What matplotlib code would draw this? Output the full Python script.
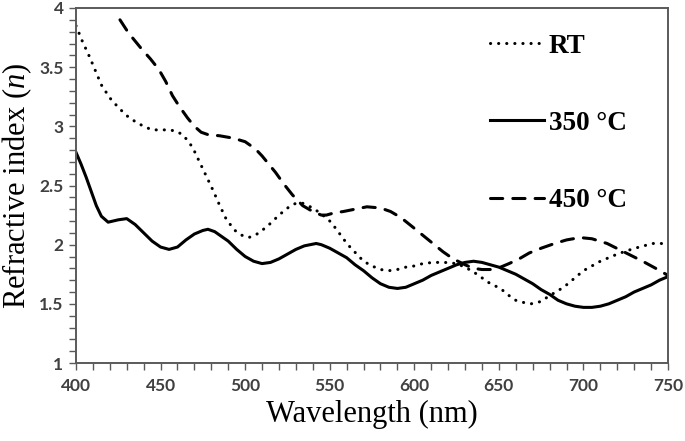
import matplotlib
matplotlib.use("Agg")
import matplotlib.pyplot as plt
from matplotlib.ticker import MultipleLocator

# ---- data ----
rt_wl = [400, 404, 407, 410, 415, 420, 425, 430, 435, 440, 445, 450, 455, 459, 463, 466, 469, 472,
         476, 481, 485, 489, 494, 498, 502, 506, 510, 515, 520, 526, 530, 534, 540, 545, 550, 554,
         558, 562, 566, 570, 575, 580, 585, 590, 595, 600, 605, 611, 618, 625, 630, 635, 640, 645,
         651, 655, 660, 665, 669, 675, 680, 685, 690, 695, 700, 705, 710, 715, 720, 726, 733, 741,
         746, 750]
rt_n = [3.85, 3.71, 3.62, 3.52, 3.35, 3.24, 3.16, 3.09, 3.04, 3.00, 2.97, 2.97, 2.97, 2.96, 2.93,
        2.88, 2.82, 2.73, 2.61, 2.46, 2.33, 2.21, 2.12, 2.08, 2.06, 2.08, 2.12, 2.18, 2.25, 2.32,
        2.35, 2.35, 2.31, 2.26, 2.20, 2.13, 2.05, 1.98, 1.92, 1.86, 1.82, 1.79, 1.78, 1.79, 1.81,
        1.82, 1.84, 1.85, 1.85, 1.84, 1.81, 1.77, 1.72, 1.67, 1.63, 1.58, 1.53, 1.51, 1.50, 1.52,
        1.57, 1.61, 1.66, 1.72, 1.78, 1.82, 1.86, 1.89, 1.92, 1.95, 1.98, 2.01, 2.01, 2.00]

t350_wl = [400, 403, 406, 409, 412, 415, 419, 425, 430, 435, 440, 445, 450, 455, 460, 465, 470, 475,
           478, 482, 486, 490, 495, 500, 505, 510, 515, 520, 525, 530, 535, 542, 545, 550, 555, 560,
           565, 570, 575, 580, 585, 590, 595, 600, 605, 610, 615, 620, 625, 630, 635, 640, 645, 650,
           655, 660, 665, 670, 675, 680, 685, 690, 695, 700, 705, 710, 715, 720, 725, 730, 735, 740,
           745, 750]
t350_n = [2.78, 2.68, 2.57, 2.45, 2.33, 2.24, 2.19, 2.21, 2.22, 2.17, 2.10, 2.03, 1.98, 1.96, 1.98,
          2.04, 2.09, 2.12, 2.13, 2.11, 2.07, 2.03, 1.96, 1.90, 1.86, 1.84, 1.85, 1.88, 1.92, 1.96,
          1.99, 2.01, 2.00, 1.97, 1.93, 1.89, 1.83, 1.78, 1.72, 1.67, 1.64, 1.63, 1.64, 1.67, 1.70,
          1.74, 1.77, 1.80, 1.83, 1.85, 1.86, 1.85, 1.83, 1.81, 1.78, 1.75, 1.71, 1.67, 1.62, 1.58,
          1.53, 1.50, 1.48, 1.47, 1.47, 1.48, 1.50, 1.53, 1.56, 1.60, 1.63, 1.66, 1.70, 1.73]

t450_wl = [426, 431, 435, 439, 444, 449, 453, 457, 461, 466, 470, 474, 478, 485, 493, 500, 506, 510,
           514, 518, 523, 528, 534, 540, 545, 548, 553, 558, 565, 572, 580, 586, 592, 599, 605, 611,
           617, 623, 630, 635, 640, 646, 651, 656, 662, 668, 675, 683, 690, 698, 705, 714, 721, 728,
           735, 744, 750]
t450_n = [3.90, 3.79, 3.72, 3.65, 3.57, 3.48, 3.38, 3.26, 3.17, 3.07, 3.00, 2.95, 2.93, 2.92, 2.90,
          2.87, 2.81, 2.75, 2.68, 2.61, 2.51, 2.42, 2.33, 2.28, 2.25, 2.25, 2.27, 2.28, 2.30, 2.32,
          2.31, 2.28, 2.23, 2.15, 2.08, 2.01, 1.94, 1.88, 1.83, 1.80, 1.79, 1.79, 1.81, 1.84, 1.88,
          1.93, 1.97, 2.01, 2.04, 2.06, 2.05, 2.01, 1.96, 1.91, 1.86, 1.79, 1.74]

labels = ["RT", "350 \u00b0C", "450 \u00b0C"]
x_ticks = [400, 450, 500, 550, 600, 650, 700, 750]
y_ticks = [1, 1.5, 2, 2.5, 3, 3.5, 4]
y_tick_labels = ["1", "1.5", "2", "2.5", "3", "3.5", "4"]

plt.rcParams['mathtext.fontset'] = 'custom'
plt.rcParams['mathtext.it'] = 'Liberation Serif:italic'
plt.rcParams['mathtext.rm'] = 'Liberation Serif'

fig = plt.figure(figsize=(6.85, 4.41), dpi=100)
ax = fig.add_axes([76/685, 1 - 363/441, (668-76)/685, (363-8)/441])

ax.plot(rt_wl, rt_n, color='black', lw=2.2, linestyle=(0, (0.05, 2.6)),
        dash_capstyle='round', solid_capstyle='round', label=labels[0])
ax.plot(t350_wl, t350_n, color='black', lw=2.2, linestyle='-', label=labels[1])
ax.plot(t450_wl, t450_n, color='black', lw=2.2, linestyle=(0, (4.0, 3.3)),
        dash_capstyle='round', label=labels[2])

ax.set_xlim(400, 750)
ax.set_ylim(1, 4)
ax.set_xticks(x_ticks)
ax.set_yticks(y_ticks)
ax.set_yticklabels(y_tick_labels)
ax.xaxis.set_minor_locator(MultipleLocator(10))
ax.yaxis.set_minor_locator(MultipleLocator(0.1))

spine_col = '#5a5a5a'
for s in ax.spines.values():
    s.set_color(spine_col)
    s.set_linewidth(1.4)
ax.tick_params(which='both', direction='out', color=spine_col, width=1.0)
ax.tick_params(which='major', length=5)
ax.tick_params(which='minor', length=5)
for lab in ax.get_xticklabels() + ax.get_yticklabels():
    lab.set_family('Lato')
    lab.set_fontweight('bold')
    lab.set_fontsize(12.5)
    lab.set_color('#404040')
ax.tick_params(axis='x', pad=6)
ax.tick_params(axis='y', pad=4)

ax.set_xlabel("Wavelength (nm)", family='Liberation Serif', fontsize=22, labelpad=4)
ax.set_ylabel("Refractive index ($\\mathit{n}$)", family='Liberation Serif', fontsize=22, labelpad=4)

leg = ax.legend(loc='upper right', bbox_to_anchor=(0.93, 0.928), frameon=False,
                borderpad=0, borderaxespad=0,
                prop={'family': 'Liberation Serif', 'weight': 'bold', 'size': 19.5},
                labelspacing=1.93, handlelength=2.0, handletextpad=0.15)

fig.savefig("out.png", dpi=100)
